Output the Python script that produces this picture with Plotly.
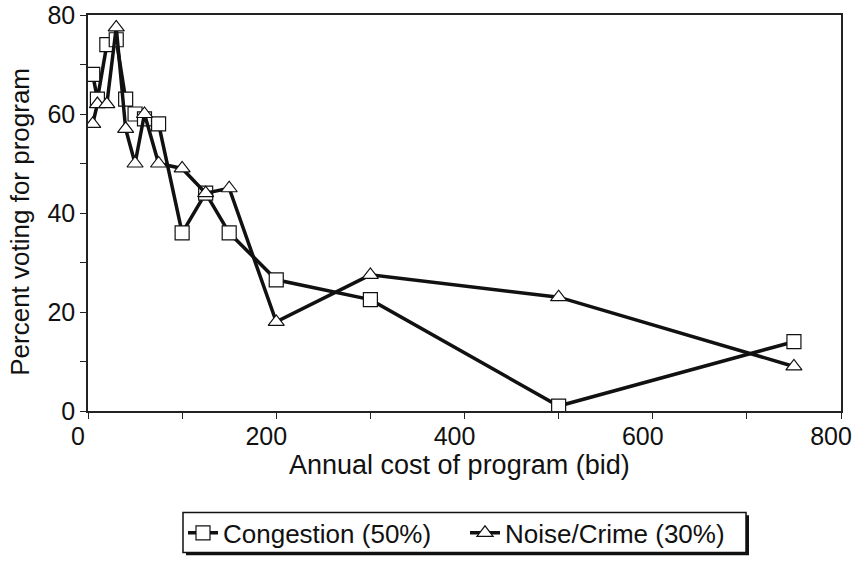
import plotly.graph_objects as go

bids = [5, 10, 20, 30, 40, 50, 60, 75, 100, 125, 150, 200, 300, 500, 750]
congestion = [68, 63, 74, 75, 63, 60, 59, 58, 36, 44, 36, 26.5, 22.5, 1, 14]
noise_crime = [58, 62, 62, 77.5, 57, 50, 60, 50, 49, 44, 45, 18, 27.5, 23, 9]

FONT = "Liberation Sans, Arial, sans-serif"
INK = "#111111"

fig = go.Figure()
fig.add_trace(go.Scatter(
    x=bids, y=congestion, name="Congestion (50%)", mode="lines+markers",
    line=dict(color=INK, width=3.5),
    marker=dict(symbol="square", size=14, color="white", line=dict(color=INK, width=1.2)),
))
fig.add_trace(go.Scatter(
    x=bids, y=noise_crime, name="Noise/Crime (30%)", mode="lines+markers",
    line=dict(color=INK, width=3.5),
    marker=dict(symbol="triangle-up", size=14, color="white", line=dict(color=INK, width=1.2)),
))

axis_common = dict(
    showline=True, linecolor="#222222", linewidth=1.5, mirror=True,
    showgrid=False, zeroline=False, ticks="outside", ticklen=6,
    tickcolor="#222222", tickwidth=1.2, automargin=False,
    tickfont=dict(family=FONT, size=25, color=INK),
)

fig.update_xaxes(range=[0, 800], dtick=200, tick0=0, ticklabelshift=-10, ticklabelstandoff=-4,
                 minor=dict(dtick=100, ticks="outside", ticklen=6, tickcolor="#222222"),
                 **axis_common)
fig.update_yaxes(range=[0, 80], dtick=20, tick0=0,
                 minor=dict(dtick=10, ticks="outside", ticklen=6, tickcolor="#222222"),
                 **axis_common)

W, H = 859, 569
L, R, T, B = 88, 18, 15, 148
PW, PH = W - L - R, H - T - B
BOT = H - B


def px(x):
    return (x - L) / PW


def py(y):
    return (BOT - y) / PH


# axis titles placed as annotations to match the original positions
fig.add_annotation(text="Annual cost of program (bid)", xref="paper", yref="paper",
                   x=px(459), y=py(476), xanchor="center", yanchor="middle",
                   showarrow=False, font=dict(family=FONT, size=27, color=INK))
fig.add_annotation(text="Percent voting for program", xref="paper", yref="paper",
                   x=px(20), y=py(227), xanchor="center", yanchor="middle",
                   textangle=-90, showarrow=False, font=dict(family=FONT, size=26, color=INK))

# legend frame with drop shadow
fig.add_shape(type="rect", xref="paper", yref="paper", layer="below",
              x0=px(186), x1=px(749), y0=py(528), y1=py(569),
              fillcolor=INK, line=dict(width=0))
fig.add_shape(type="rect", xref="paper", yref="paper", layer="below",
              x0=px(183), x1=px(746), y0=py(525), y1=py(566),
              fillcolor="white", line=dict(color=INK, width=1.5))

fig.update_layout(
    width=W, height=H,
    margin=dict(l=L, r=R, t=T, b=B),
    paper_bgcolor="white", plot_bgcolor="white",
    font=dict(family=FONT, color=INK),
    legend=dict(orientation="h", x=px(465), xanchor="center", y=py(546), yanchor="middle",
                borderwidth=0, bgcolor="rgba(0,0,0,0)",
                font=dict(family=FONT, size=26, color=INK),
                itemwidth=30, entrywidth=237, tracegroupgap=0),
)

post = (
    "document.documentElement.style.overflow='hidden';"
    "document.body.style.margin='0';"
    "document.body.style.overflow='hidden';"
)

fig.write_html("out.html", config={"displayModeBar": False}, post_script=post)
